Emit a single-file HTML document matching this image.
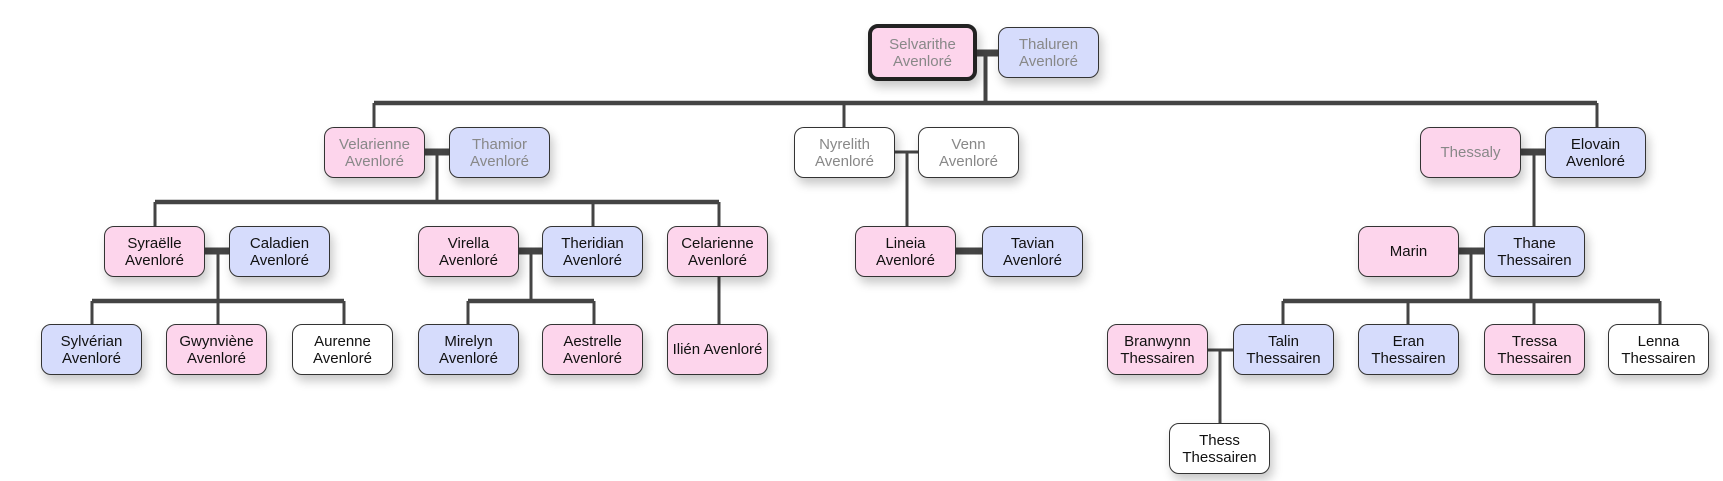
<!DOCTYPE html>
<html><head><meta charset="utf-8"><style>
html,body{margin:0;padding:0;background:#fff;}
body{width:1723px;height:481px;position:relative;overflow:hidden;font-family:"Liberation Sans",Arial,sans-serif;}
.n{position:absolute;box-sizing:border-box;width:101px;height:51px;border:1px solid #333;border-radius:10px;display:flex;align-items:center;justify-content:center;text-align:center;font-size:15px;line-height:17px;color:#111;box-shadow:3px 6px 10px rgba(0,0,0,0.22);}
.p{background:#fdd5ec;}.b{background:#d6dcfc;}.w{background:#fff;}
.g{color:#888;}
svg{position:absolute;left:0;top:0;}
</style></head><body>
<svg width="1723" height="481">
<g stroke="#444" fill="none">
<line x1="977" y1="53" x2="998" y2="53" stroke-width="7"/>
<line x1="985.5" y1="53" x2="985.5" y2="103" stroke-width="4"/>
<line x1="374" y1="103" x2="1597" y2="103" stroke-width="4.5"/>
<line x1="374" y1="103" x2="374" y2="127" stroke-width="3"/>
<line x1="844" y1="103" x2="844" y2="127" stroke-width="3"/>
<line x1="1597" y1="103" x2="1597" y2="127" stroke-width="3"/>
<line x1="424" y1="152" x2="449" y2="152" stroke-width="7"/>
<line x1="437" y1="152" x2="437" y2="202" stroke-width="3"/>
<line x1="155" y1="202" x2="719" y2="202" stroke-width="4.5"/>
<line x1="155" y1="202" x2="155" y2="226" stroke-width="3"/>
<line x1="593" y1="202" x2="593" y2="226" stroke-width="3"/>
<line x1="719" y1="202" x2="719" y2="226" stroke-width="3"/>
<line x1="205" y1="251" x2="229" y2="251" stroke-width="7"/>
<line x1="218" y1="251" x2="218" y2="324" stroke-width="3"/>
<line x1="92" y1="301" x2="344" y2="301" stroke-width="4.5"/>
<line x1="92" y1="301" x2="92" y2="324" stroke-width="3"/>
<line x1="344" y1="301" x2="344" y2="324" stroke-width="3"/>
<line x1="518" y1="251" x2="542" y2="251" stroke-width="7"/>
<line x1="531" y1="251" x2="531" y2="301" stroke-width="3"/>
<line x1="468" y1="301" x2="594" y2="301" stroke-width="4.5"/>
<line x1="468" y1="301" x2="468" y2="324" stroke-width="3"/>
<line x1="594" y1="301" x2="594" y2="324" stroke-width="3"/>
<line x1="719" y1="276" x2="719" y2="324" stroke-width="3"/>
<line x1="894" y1="152" x2="918" y2="152" stroke-width="3"/>
<line x1="907" y1="152" x2="907" y2="226" stroke-width="3"/>
<line x1="956" y1="251" x2="982" y2="251" stroke-width="7"/>
<line x1="1521" y1="152" x2="1545" y2="152" stroke-width="7"/>
<line x1="1534" y1="152" x2="1534" y2="226" stroke-width="3"/>
<line x1="1459" y1="251" x2="1484" y2="251" stroke-width="7"/>
<line x1="1471" y1="251" x2="1471" y2="301" stroke-width="3"/>
<line x1="1283" y1="301" x2="1660" y2="301" stroke-width="4.5"/>
<line x1="1283" y1="301" x2="1283" y2="324" stroke-width="3"/>
<line x1="1408" y1="301" x2="1408" y2="324" stroke-width="3"/>
<line x1="1534" y1="301" x2="1534" y2="324" stroke-width="3"/>
<line x1="1660" y1="301" x2="1660" y2="324" stroke-width="3"/>
<line x1="1208" y1="350" x2="1233" y2="350" stroke-width="3"/>
<line x1="1220" y1="350" x2="1220" y2="423" stroke-width="3"/>
</g></svg>
<div class="n p g" style="left:868px;top:24px;width:109px;height:57px;border:4px solid #222;">Selvarithe<br>Avenloré</div>
<div class="n b g" style="left:998px;top:27px;">Thaluren<br>Avenloré</div>
<div class="n p g" style="left:324px;top:127px;">Velarienne<br>Avenloré</div>
<div class="n b g" style="left:449px;top:127px;">Thamior<br>Avenloré</div>
<div class="n w g" style="left:794px;top:127px;">Nyrelith<br>Avenloré</div>
<div class="n w g" style="left:918px;top:127px;">Venn<br>Avenloré</div>
<div class="n p g" style="left:1420px;top:127px;">Thessaly</div>
<div class="n b" style="left:1545px;top:127px;">Elovain<br>Avenloré</div>
<div class="n p" style="left:104px;top:226px;">Syraëlle<br>Avenloré</div>
<div class="n b" style="left:229px;top:226px;">Caladien<br>Avenloré</div>
<div class="n p" style="left:418px;top:226px;">Virella<br>Avenloré</div>
<div class="n b" style="left:542px;top:226px;">Theridian<br>Avenloré</div>
<div class="n p" style="left:667px;top:226px;">Celarienne<br>Avenloré</div>
<div class="n p" style="left:855px;top:226px;">Lineia<br>Avenloré</div>
<div class="n b" style="left:982px;top:226px;">Tavian<br>Avenloré</div>
<div class="n p" style="left:1358px;top:226px;">Marin</div>
<div class="n b" style="left:1484px;top:226px;">Thane<br>Thessairen</div>
<div class="n b" style="left:41px;top:324px;">Sylvérian<br>Avenloré</div>
<div class="n p" style="left:166px;top:324px;">Gwynviène<br>Avenloré</div>
<div class="n w" style="left:292px;top:324px;">Aurenne<br>Avenloré</div>
<div class="n b" style="left:418px;top:324px;">Mirelyn<br>Avenloré</div>
<div class="n p" style="left:542px;top:324px;">Aestrelle<br>Avenloré</div>
<div class="n p" style="left:667px;top:324px;">Ilién Avenloré</div>
<div class="n p" style="left:1107px;top:324px;">Branwynn<br>Thessairen</div>
<div class="n b" style="left:1233px;top:324px;">Talin<br>Thessairen</div>
<div class="n b" style="left:1358px;top:324px;">Eran<br>Thessairen</div>
<div class="n p" style="left:1484px;top:324px;">Tressa<br>Thessairen</div>
<div class="n w" style="left:1608px;top:324px;">Lenna<br>Thessairen</div>
<div class="n w" style="left:1169px;top:423px;">Thess<br>Thessairen</div>
</body></html>
